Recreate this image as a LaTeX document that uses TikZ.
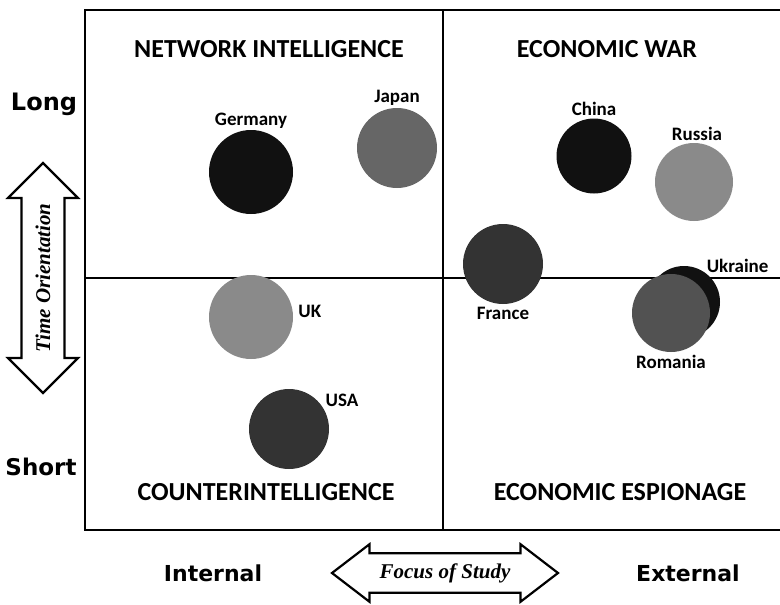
\documentclass[tikz,border=0pt]{standalone}
\usepackage{fontspec}
\setmainfont{Carlito}
\newfontfamily\heavyfont{DejaVu Sans}
\newfontfamily\axisfont{Liberation Serif}
\usetikzlibrary{positioning, shapes.arrows}
\definecolor{nearblack}{HTML}{111111}
\definecolor{darkgrey}{HTML}{333333}
\definecolor{midgrey}{HTML}{666666}
\definecolor{lightgrey}{HTML}{8A8A8A}
\tikzset{
x=1pt, y=-1pt, % one unit is one pixel of the layout
country/.style={circle, draw=none, minimum size=80pt, inner sep=0pt}, % the country discs
countrylbl/.style={font=\fontsize{19}{19}\selectfont\bfseries, inner sep=1pt}, % country names
quadrant/.style={font=\fontsize{26}{26}\selectfont\bfseries}, % quadrant titles
scale label/.style={font=\heavyfont\fontsize{22}{22}\selectfont\bfseries}, % Long, Short, ...
axis arrow/.style={double arrow, draw=black, line width=2.2pt, fill=white,
  font=\axisfont\fontsize{21}{21}\selectfont\bfseries\itshape, inner xsep=0pt},
}
\begin{document}
\begin{tikzpicture}
\useasboundingbox (0,0) rectangle (780,605);
% frame and axes
\draw[line width=1.3pt] (85,10) rectangle (790,530);
\coordinate (top) at (443,10);
\coordinate (bottom) at (443,530);
\coordinate (left) at (85,278);
\coordinate (right) at (790,278);
\draw[line width=1.8pt] (top) -- (bottom);
\draw[line width=1.8pt] (left) -- (right);

% quadrant titles
\node[quadrant] (netint) at (269,49) {NETWORK INTELLIGENCE};
\node[quadrant] (ecowar) at (607,49) {ECONOMIC WAR};
\node[quadrant] (counter) at (266,492) {COUNTERINTELLIGENCE};
\node[quadrant] (espionage) at (620,492) {ECONOMIC ESPIONAGE};

% countries
\node[country, fill=nearblack, minimum size=84pt] (germany) at (251,172) {};
\node[country, fill=midgrey] (japan) at (397,148) {};
\node[country, fill=nearblack, minimum size=75pt] (china) at (594,156) {};
\node[country, fill=lightgrey, minimum size=78pt] (russia) at (694,182) {};
\node[country, fill=darkgrey] (france) at (503,264) {};
\node[country, fill=nearblack, minimum size=72pt] (ukraine) at (684,302) {};
\node[country, fill=darkgrey!85!white, minimum size=78pt] (romania) at (671,313) {};
\node[country, fill=lightgrey, minimum size=84pt] (uk) at (251,317) {};
\node[country, fill=darkgrey] (usa) at (289,429) {};

\node[countrylbl, above=0pt of germany] (germanylbl) {Germany};
\node[countrylbl, above=1pt of japan] (japanlbl) {Japan};
\node[countrylbl, above=1pt of china] (chinalbl) {China};
\node[countrylbl, above=1pt of russia, xshift=3pt] (russialbl) {Russia};
\node[countrylbl, below=2pt of france] (francelbl) {France};
\node[countrylbl, below=2pt of romania] (romanialbl) {Romania};
\node[countrylbl, above right=3pt and -4pt of ukraine] (ukrainelbl) {Ukraine};
\node[countrylbl, right=4pt of uk, yshift=6pt] (uklbl) {UK};
\node[countrylbl, above right=-7pt and 7pt of usa] (usalbl) {USA};

% scale labels
\node[scale label, font=\heavyfont\fontsize{24}{24}\selectfont\bfseries] (long) at (44,104) {Long};
\node[scale label, font=\heavyfont\fontsize{23}{23}\selectfont\bfseries] (short) at (41,467) {Short};
\node[scale label] (internal) at (213,573) {Internal};
\node[scale label] (external) at (688,573) {External};

% axis arrows
\node[axis arrow, rotate=90, minimum height=230pt, minimum width=70pt,
  inner ysep=12pt, double arrow head extend=13pt] (time) at (43,278) {Time Orientation};
\node[axis arrow, minimum height=226pt, minimum width=55pt,
  inner ysep=9pt, double arrow head extend=9pt, double arrow tip angle=75] (focus) at (445,573) {Focus of Study};
\end{tikzpicture}
\end{document}
